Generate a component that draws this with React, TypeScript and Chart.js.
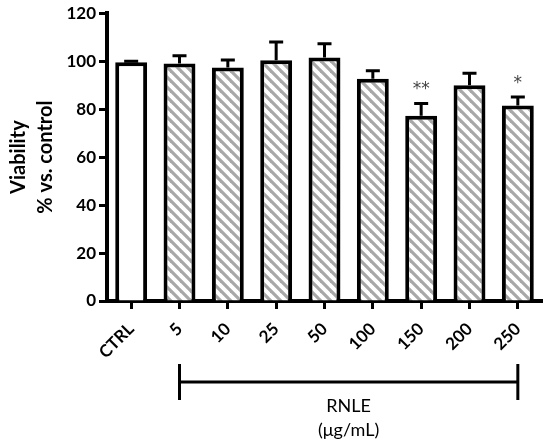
import React, { useEffect, useRef } from "react";
import { Chart, registerables } from "chart.js";

Chart.register(...registerables);

const categories = ["CTRL", "5", "10", "25", "50", "100", "150", "200", "250"];
const viability = [99.6, 99.0, 97.4, 100.4, 101.5, 92.7, 77.2, 90.0, 81.5];
const sem = [0.4, 3.3, 3.1, 7.6, 5.8, 3.3, 5.2, 5.0, 3.6];
const significance = ["", "", "", "", "", "", "**", "", "*"];
const yTickMin = 0;
const yTickMax = 120;
const yTickStep = 20;
const yTitle = ["Viability", "% vs. control"];
const groupLabel = ["RNLE", "(\u03bcg/mL)"];
const groupRange = [1, 8];

function makeStripes(): CanvasPattern | string {
  const c = document.createElement("canvas");
  c.width = 10;
  c.height = 10;
  const g = c.getContext("2d");
  if (!g) return "#aaa";
  g.fillStyle = "#ffffff";
  g.fillRect(0, 0, 10, 10);
  g.strokeStyle = "#a8a8a8";
  g.lineWidth = 3.2;
  for (const dx of [-10, 0, 10]) {
    g.beginPath();
    g.moveTo(dx - 2, -2);
    g.lineTo(dx + 12, 12);
    g.stroke();
  }
  const p = g.createPattern(c, "repeat");
  return p || "#aaa";
}

const extrasPlugin = {
  id: "extras",
  afterDatasetsDraw(chart: any) {
    const ctx = chart.ctx;
    const meta = chart.getDatasetMeta(0);
    const ys = chart.scales.y;
    const xs = chart.scales.x;
    ctx.save();
    ctx.strokeStyle = "#000";
    ctx.lineWidth = 3;
    meta.data.forEach((bar: any, i: number) => {
      const top = ys.getPixelForValue(viability[i]);
      const end = ys.getPixelForValue(viability[i] + sem[i]);
      ctx.beginPath();
      ctx.moveTo(bar.x, top);
      ctx.lineTo(bar.x, end);
      ctx.moveTo(bar.x - 7, end);
      ctx.lineTo(bar.x + 7, end);
      ctx.stroke();
      if (significance[i]) {
        ctx.fillStyle = "#444";
        ctx.font = "17px 'DejaVu Sans'";
        ctx.textAlign = "center";
        ctx.textBaseline = "alphabetic";
        ctx.fillText(significance[i], bar.x, end - 9);
      }
    });
    // group bracket
    const x1 = xs.getPixelForValue(groupRange[0]);
    const x2 = xs.getPixelForValue(groupRange[1]);
    const base = chart.chartArea.bottom;
    const yLine = base + 81;
    ctx.lineWidth = 3;
    ctx.beginPath();
    ctx.moveTo(x1, yLine);
    ctx.lineTo(x2, yLine);
    ctx.moveTo(x1, yLine - 18);
    ctx.lineTo(x1, yLine + 18);
    ctx.moveTo(x2, yLine - 18);
    ctx.lineTo(x2, yLine + 18);
    ctx.stroke();
    ctx.fillStyle = "#000";
    ctx.font = "18px Lato";
    ctx.textAlign = "center";
    ctx.textBaseline = "middle";
    const cx = (x1 + x2) / 2;
    ctx.fillText(groupLabel[0], cx, yLine + 24);
    ctx.fillText(groupLabel[1], cx, yLine + 48);
    ctx.restore();
  },
};

export default function App() {
  const ref = useRef<HTMLCanvasElement>(null);
  useEffect(() => {
    if (!ref.current) return;
    Chart.defaults.font.family = "Lato";
    const stripes = makeStripes();
    const chart = new Chart(ref.current, {
      type: "bar",
      data: {
        labels: categories,
        datasets: [
          {
            data: viability,
            backgroundColor: categories.map((_, i) => (i === 0 ? "#ffffff" : stripes)) as any,
            borderColor: "#000",
            borderWidth: 4,
            borderSkipped: "start",
            barPercentage: 0.66,
            categoryPercentage: 1,
          },
        ],
      },
      options: {
        animation: false,
        responsive: true,
        maintainAspectRatio: false,
        layout: { padding: { top: 12, right: 8, left: 0, bottom: 0 } },
        plugins: { legend: { display: false }, tooltip: { enabled: false } },
        scales: {
          x: {
            afterFit: (s: any) => {
              s.height = 143;
            },
            grid: {
              offset: false,
              drawOnChartArea: false,
              tickLength: 8,
              tickWidth: 3,
              tickColor: "#000",
            },
            border: { display: true, width: 4, color: "#000" },
            ticks: {
              minRotation: 45,
              maxRotation: 45,
              color: "#000",
              font: { size: 17, weight: "bold" },
              padding: 10,
            },
          },
          y: {
            min: yTickMin,
            max: yTickMax,
            afterFit: (s: any) => {
              s.width = 107;
            },
            grid: {
              drawOnChartArea: false,
              tickLength: 8,
              tickWidth: 3,
              tickColor: "#000",
            },
            border: { display: true, width: 4, color: "#000" },
            ticks: {
              stepSize: yTickStep,
              color: "#000",
              font: { size: 17, weight: "bold" },
              padding: 3,
            },
            title: {
              display: true,
              text: yTitle,
              color: "#000",
              font: { size: 20, weight: "bold", lineHeight: 1.35 },
              padding: { top: 5, bottom: 0 },
            },
          },
        },
      },
      plugins: [extrasPlugin],
    });
    return () => chart.destroy();
  }, []);
  return (
    <div style={{ position: "fixed", left: 0, top: 0, width: 550, height: 444, background: "#fff" }}>
      <canvas ref={ref} />
    </div>
  );
}
